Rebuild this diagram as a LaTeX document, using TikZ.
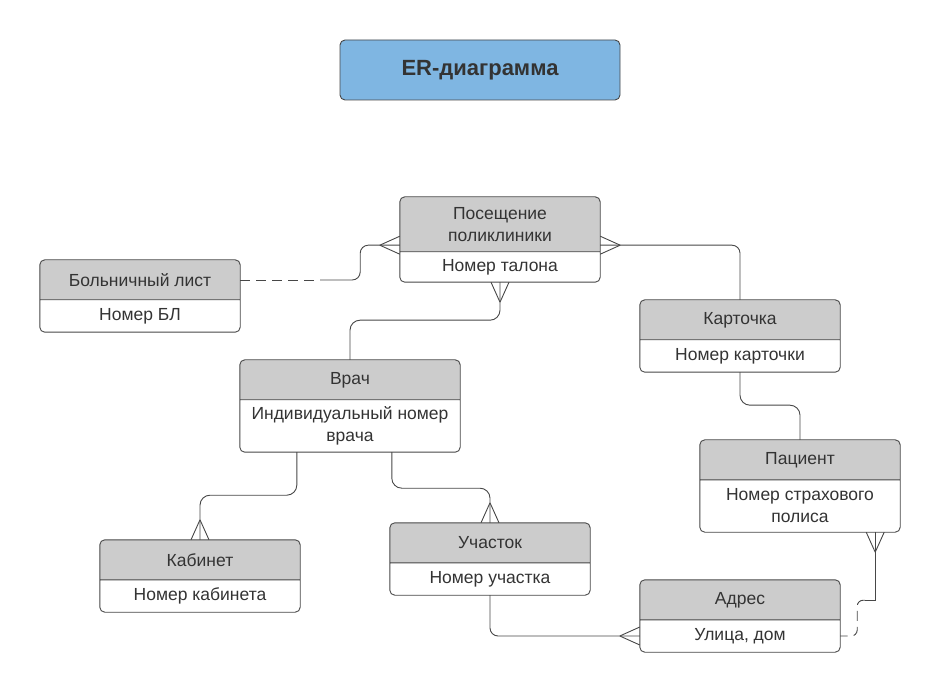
\documentclass[tikz,border=0pt]{standalone}
\usepackage{fontspec}
\setmainfont{Liberation Sans}
\usetikzlibrary{calc,backgrounds}
\definecolor{hdrgray}{HTML}{CCCCCC}
\definecolor{titleblue}{HTML}{7FB6E2}
\definecolor{linegray}{HTML}{474747}
\definecolor{txt}{HTML}{333333}
\tikzset{
  hdr/.style={minimum width=200pt, minimum height=40pt, inner sep=0pt, align=center, text=txt, font=\fontsize{17.5}{22}\selectfont},
  attr/.style={hdr, minimum height=32pt},
  box/.style={draw=linegray, line width=0.9pt, rounded corners=5pt},
  conn/.style={draw=linegray, line width=0.9pt, rounded corners=8pt},
  optional/.style={dash pattern=on 10pt off 6pt},
  crow/.pic={\draw[conn] (0,0) -- (20,-9) (0,0) -- (20,9);}
}
\begin{document}
\begin{tikzpicture}[x=1pt,y=-1pt]
\useasboundingbox (0,0) rectangle (940,692);
\node[box, fill=titleblue, minimum width=280pt, minimum height=60pt, text=txt, font=\fontsize{22}{26}\selectfont\bfseries] (title) at (480,70) {ER-диаграмма};
% entities: header + attribute
\node[hdr, minimum height=55pt] (pos-h) at (500,224.5) {Посещение\\поликлиники};
\node[attr, minimum height=30pt] (pos) at (500,267) {Номер талона};
\node[hdr] (bl-h) at (140,280) {Больничный лист};
\node[attr] (bl) at (140,316) {Номер БЛ};
\node[hdr] (kart-h) at (740,320) {Карточка};
\node[attr] (kart) at (740,356) {Номер карточки};
\node[hdr, minimum width=220pt] (vrach-h) at (350,380) {Врач};
\node[attr, minimum width=220pt, minimum height=52pt] (vrach) at (350,426) {Индивидуальный номер\\врача};
\node[hdr] (pac-h) at (800,460) {Пациент};
\node[attr, minimum height=52pt] (pac) at (800,506) {Номер страхового\\полиса};
\node[hdr] (kab-h) at (200,560) {Кабинет};
\node[attr] (kab) at (200,596) {Номер кабинета};
\node[hdr] (uch-h) at (490,543) {Участок};
\node[attr] (uch) at (490,579) {Номер участка};
\node[hdr] (adr-h) at (740,600) {Адрес};
\node[attr] (adr) at (740,636) {Улица, дом};
\begin{scope}[on background layer]
\foreach \e in {pos,bl,kart,vrach,pac,kab,uch,adr} {
  \begin{scope}
  \clip[rounded corners=5pt] (\e-h.north west) rectangle (\e.south east);
  \fill[hdrgray] (\e-h.north west) rectangle (\e-h.south east);
  \end{scope}
}
\end{scope}
\foreach \e in {pos,bl,kart,vrach,pac,kab,uch,adr}
  \draw[box] (\e-h.north west) rectangle (\e.south east) (\e.north west) -- (\e.north east);
% connection points
\coordinate (pos-l) at ($(pos-h.south west)+(0,-7)$);
\coordinate (pos-r) at ($(pos-h.south east)+(0,-7)$);
\coordinate (vrach-a) at ($(vrach.south west)+(57,0)$);
\coordinate (vrach-b) at ($(vrach.south west)+(152,0)$);
\coordinate (pac-b) at ($(pac.south east)+(-25,0)$);
% relationships
\draw[conn, optional] (bl-h.east) -- ++(80,0) coordinate (bl-m);
\draw[conn] (bl-m) -- ++(40,0) |- (pos-l);
\draw[conn] (pos-r) -| (kart-h.north);
\draw[conn, rounded corners=10pt] (pos.south) -- ++(0,38) -| (vrach-h.north);
\draw[conn, rounded corners=10pt] (vrach-a) -- ++(0,43) -| (kab-h.north);
\draw[conn, rounded corners=10pt] (vrach-b) -- ++(0,36) -| (uch-h.north);
\draw[conn, rounded corners=10pt] (kart.south) -- ++(0,33) -| (pac-h.north);
\draw[conn] (uch.south) |- (adr.west);
\draw[conn, rounded corners=0pt] (pac-b) -- ++(0,68) -- ++(-10,0) coordinate (pac-m);
\draw[conn, optional, rounded corners=6pt] (pac-m) -- ++(-8,0) |- (adr.east);
% crow's feet
\pic at ($(pos-l)+(-20,0)$) {crow};
\pic[rotate=180] at ($(pos-r)+(20,0)$) {crow};
\pic[rotate=90] at ($(pos.south)+(0,20)$) {crow};
\pic[rotate=-90] at ($(kab-h.north)+(0,-20)$) {crow};
\pic[rotate=-90] at ($(uch-h.north)+(0,-20)$) {crow};
\pic[rotate=90] at ($(pac-b)+(0,20)$) {crow};
\pic at ($(adr.west)+(-20,0)$) {crow};
\end{tikzpicture}
\end{document}
